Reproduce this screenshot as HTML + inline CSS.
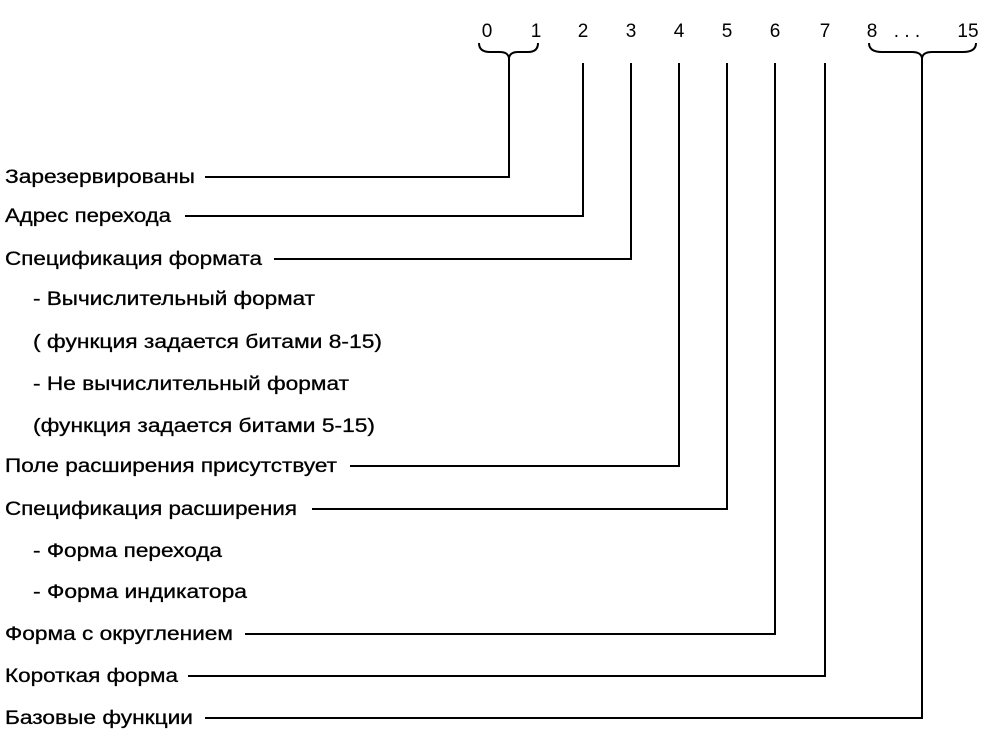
<!DOCTYPE html>
<html><head><meta charset="utf-8"><style>body{margin:0;background:#fff}svg{display:block}</style></head>
<body>
<svg width="985" height="737" xmlns="http://www.w3.org/2000/svg" font-family="Liberation Sans, DejaVu Sans, sans-serif" font-size="19" fill="#000">
<g text-anchor="middle">
<text x="487" y="37">0</text><text x="536" y="37">1</text><text x="583" y="37">2</text><text x="631" y="37">3</text><text x="679" y="37">4</text><text x="727" y="37">5</text><text x="775" y="37">6</text><text x="825" y="37">7</text><text x="872" y="37">8</text><text x="907" y="37">.  .  .</text><text x="968" y="37">15</text>
</g>
<g fill="none" stroke="#000" stroke-width="2">
<path d="M479 43 Q479 52 490 52 L500 52 Q508 52 509 58 Q510 52 518 52 L528 52 Q538 52 538 43"/>
<path d="M869 43 Q869 52 882 52 L912 52 Q921 52 922 58 Q923 52 932 52 L963 52 Q976 52 976 43"/>
<path d="M509 58 V177 H205"/>
<path d="M583 63 V216 H185"/>
<path d="M631 63 V259 H274"/>
<path d="M679 63 V466 H350"/>
<path d="M727 63 V509 H312"/>
<path d="M775 63 V634 H245"/>
<path d="M825 63 V676 H188"/>
<path d="M922 58 V718 H205"/>
</g>
<g stroke="#000" stroke-width="0.3">
<text x="5" y="183" textLength="190" lengthAdjust="spacingAndGlyphs">Зарезервированы</text>
<text x="5" y="222" textLength="166" lengthAdjust="spacingAndGlyphs">Адрес перехода</text>
<text x="5" y="265" textLength="257" lengthAdjust="spacingAndGlyphs">Спецификация формата</text>
<text x="33" y="305" textLength="282" lengthAdjust="spacingAndGlyphs">- Вычислительный формат</text>
<text x="33" y="348" textLength="349" lengthAdjust="spacingAndGlyphs">( функция задается битами 8-15)</text>
<text x="33" y="390" textLength="316" lengthAdjust="spacingAndGlyphs">- Не вычислительный формат</text>
<text x="33" y="432" textLength="342" lengthAdjust="spacingAndGlyphs">(функция задается битами 5-15)</text>
<text x="5" y="472" textLength="332" lengthAdjust="spacingAndGlyphs">Поле расширения присутствует</text>
<text x="5" y="515" textLength="292" lengthAdjust="spacingAndGlyphs">Спецификация расширения</text>
<text x="33" y="557" textLength="189" lengthAdjust="spacingAndGlyphs">- Форма перехода</text>
<text x="33" y="598" textLength="214" lengthAdjust="spacingAndGlyphs">- Форма индикатора</text>
<text x="5" y="640" textLength="228" lengthAdjust="spacingAndGlyphs">Форма с округлением</text>
<text x="5" y="682" textLength="173" lengthAdjust="spacingAndGlyphs">Короткая форма</text>
<text x="5" y="724" textLength="188" lengthAdjust="spacingAndGlyphs">Базовые функции</text>
</g>
</svg>
</body></html>
